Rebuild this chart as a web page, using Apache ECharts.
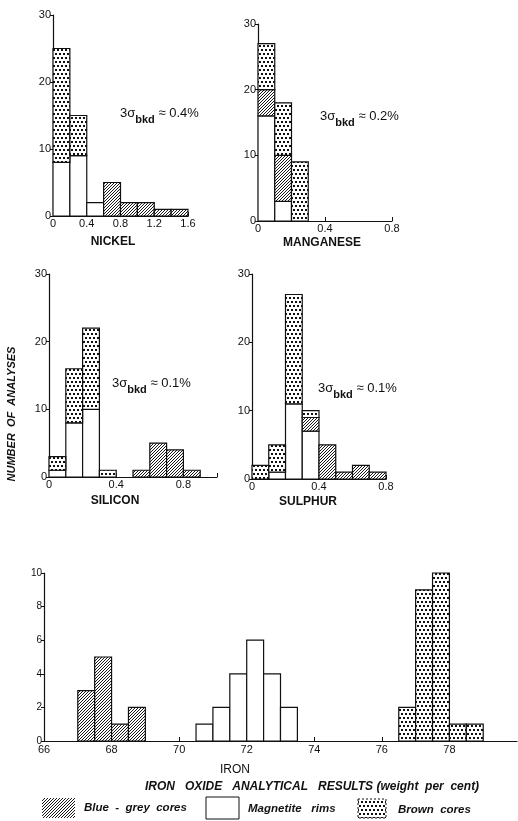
<!DOCTYPE html>
<html><head><meta charset="utf-8">
<script src="https://cdn.jsdelivr.net/npm/echarts/dist/echarts.min.js"></script>
<style>html,body{margin:0;padding:0;background:#fff}#c{width:518px;height:821px}</style>
</head><body><div id="c"></div>
<script>
// ---------- data (counts per bin; layers: Magnetite rims, Blue-grey cores, Brown cores) ----------
const nickelBins = [0, 0.2, 0.4, 0.6, 0.8, 1.0, 1.2, 1.4, 1.6];
const nickelRims = [8, 9, 2, 0, 0, 0, 0, 0];
const nickelBlueGrey = [0, 0, 0, 5, 2, 2, 1, 1];
const nickelBrown = [17, 6, 0, 0, 0, 0, 0, 0];

const manganeseBins = [0, 0.1, 0.2, 0.3];
const manganeseRims = [16, 3, 0];
const manganeseBlueGrey = [4, 7, 0];
const manganeseBrown = [7, 8, 9];

const siliconBins = [0, 0.1, 0.2, 0.3, 0.4, 0.5, 0.6, 0.7, 0.8, 0.9];
const siliconRims = [1, 8, 10, 0, 0, 0, 0, 0, 0];
const siliconBlueGrey = [0, 0, 0, 0, 0, 1, 5, 4, 1];
const siliconBrown = [2, 8, 12, 1, 0, 0, 0, 0, 0];

const sulphurBins = [0, 0.1, 0.2, 0.3, 0.4, 0.5, 0.6, 0.7, 0.8];
const sulphurRims = [0, 1, 11, 7, 0, 0, 0, 0];
const sulphurBlueGrey = [0, 0, 0, 2, 5, 1, 2, 1];
const sulphurBrown = [2, 4, 16, 1, 0, 0, 0, 0];

const ironBlueGreyBins = [67, 67.5, 68, 68.5, 69];
const ironBlueGrey = [3, 5, 1, 2];
const ironRimsBins = [70.5, 71, 71.5, 72, 72.5, 73, 73.5];
const ironRims = [1, 2, 4, 6, 4, 2];
const ironBrownBins = [76.5, 77, 77.5, 78, 78.5, 79];
const ironBrown = [2, 9, 10, 1, 1];

const elementNames = ['NICKEL', 'MANGANESE', 'SILICON', 'SULPHUR'];
const elementTicks = [[0, 0.4, 0.8, 1.2, 1.6], [0, 0.4, 0.8], [0, 0.4, 0.8], [0, 0.4, 0.8]];
const backgroundNotes = ['0.4%', '0.2%', '0.1%', '0.1%'];
const seriesNames = ['Magnetite rims', 'Blue - grey cores', 'Brown cores'];

// ---------- patterns ----------
function hatchPattern() {
  const s = 3;
  const c = document.createElement('canvas'); c.width = s; c.height = s;
  const g = c.getContext('2d');
  g.fillStyle = '#fff'; g.fillRect(0, 0, s, s);
  g.strokeStyle = '#1a1a1a'; g.lineWidth = 1;
  g.beginPath();
  g.moveTo(-1, s + 1); g.lineTo(s + 1, -1);
  g.moveTo(-1, 1); g.lineTo(1, -1);
  g.moveTo(s - 1, s + 1); g.lineTo(s + 1, s - 1);
  g.stroke();
  return { image: c, repeat: 'repeat' };
}
function dotPattern() {
  const c = document.createElement('canvas'); c.width = 8; c.height = 8;
  const g = c.getContext('2d');
  g.fillStyle = '#fff'; g.fillRect(0, 0, 8, 8);
  g.fillStyle = '#111';
  [[1, 1], [5, 1], [3, 5]].forEach(p => g.fillRect(p[0], p[1], 2, 2));
  g.fillRect(7, 5, 1, 2); g.fillRect(0, 5, 1, 2);
  return { image: c, repeat: 'repeat' };
}
const fills = ['#ffffff', hatchPattern(), dotPattern()];

// ---------- helpers ----------
function stacked(bins, layers) {
  const out = layers.map(() => []);
  for (let j = 0; j < bins.length - 1; j++) {
    let base = 0;
    layers.forEach((layer, i) => {
      const v = layer[j];
      if (v > 0) out[i].push([bins[j], bins[j + 1], base, base + v]);
      base += v;
    });
  }
  return out;
}
function single(bins, counts) {
  const out = [];
  for (let j = 0; j < counts.length; j++) if (counts[j] > 0) out.push([bins[j], bins[j + 1], 0, counts[j]]);
  return out;
}
function rectRenderer(fill) {
  return function (params, api) {
    const a = api.coord([api.value(0), api.value(3)]);
    const b = api.coord([api.value(1), api.value(2)]);
    return {
      type: 'rect',
      shape: { x: a[0], y: a[1], width: b[0] - a[0], height: b[1] - a[1] },
      style: { fill: fill, stroke: '#111', lineWidth: 1.2 }
    };
  };
}

const FONT = 'Liberation Sans';
const panels = [
  { grid: { left: 53, top: 15, width: 135, height: 201 }, xmax: 1.6, data: stacked(nickelBins, [nickelRims, nickelBlueGrey, nickelBrown]) },
  { grid: { left: 258, top: 24, width: 134, height: 197 }, xmax: 0.8, data: stacked(manganeseBins, [manganeseRims, manganeseBlueGrey, manganeseBrown]) },
  { grid: { left: 49, top: 274, width: 168, height: 203 }, xmax: 1.0, data: stacked(siliconBins, [siliconRims, siliconBlueGrey, siliconBrown]) },
  { grid: { left: 252, top: 274, width: 134, height: 205 }, xmax: 0.8, data: stacked(sulphurBins, [sulphurRims, sulphurBlueGrey, sulphurBrown]) }
];
const ironData = [single(ironRimsBins, ironRims), single(ironBlueGreyBins, ironBlueGrey), single(ironBrownBins, ironBrown)];

const axisLine = { show: true, onZero: false, lineStyle: { color: '#111', width: 1.2 } };
const grids = [], xAxes = [], yAxes = [], series = [];
panels.forEach((p, i) => {
  grids.push(p.grid);
  const ticks = elementTicks[i];
  xAxes.push({
    gridIndex: i, type: 'value', min: 0, max: p.xmax, interval: 0.4,
    axisLine, splitLine: { show: false },
    axisTick: { inside: true, length: 4, lineStyle: { color: '#111' } },
    axisLabel: { color: '#111', fontSize: 11, fontFamily: FONT, margin: 2,
      formatter: v => ticks.some(t => Math.abs(t - v) < 1e-6) ? String(+v.toFixed(1)) : '' }
  });
  yAxes.push({
    gridIndex: i, type: 'value', min: 0, max: 30, interval: 10,
    axisLine, splitLine: { show: false },
    axisTick: { show: true, length: 3, lineStyle: { color: '#111' } },
    axisLabel: { color: '#111', fontSize: 11, fontFamily: FONT, margin: 2 }
  });
  p.data.forEach((d, k) => series.push({
    type: 'custom', name: seriesNames[k], xAxisIndex: i, yAxisIndex: i,
    renderItem: rectRenderer(fills[k]), encode: { x: [0, 1], y: [2, 3] }, data: d, silent: true
  }));
});
grids.push({ left: 44, top: 573, width: 473, height: 168 });
xAxes.push({
  gridIndex: 4, type: 'value', min: 66, max: 80, interval: 2,
  axisLine, splitLine: { show: false },
  axisTick: { inside: true, length: 4, lineStyle: { color: '#111' } },
  axisLabel: { color: '#111', fontSize: 11, fontFamily: FONT, margin: 3, showMaxLabel: false }
});
yAxes.push({
  gridIndex: 4, type: 'value', min: 0, max: 10, interval: 2,
  axisLine, splitLine: { show: false },
  axisTick: { show: true, length: 3, lineStyle: { color: '#111' } },
  axisLabel: { color: '#111', fontSize: 10, fontFamily: FONT, margin: 2 }
});
ironData.forEach((d, k) => series.push({
  type: 'custom', name: seriesNames[k], xAxisIndex: 4, yAxisIndex: 4,
  renderItem: rectRenderer(fills[k]), encode: { x: [0, 1], y: [2, 3] }, data: d, silent: true
}));

// ---------- text ----------
const labelPos = [[113, 242], [322, 243], [115, 501], [308, 502]];
const notePos = [[120, 116], [320, 119], [112, 386], [318, 391]];
const graphic = [];
elementNames.forEach((n, i) => graphic.push({
  type: 'text', x: labelPos[i][0], y: labelPos[i][1],
  style: { text: n, fill: '#111', font: '600 12px "' + FONT + '"', align: 'center', verticalAlign: 'middle' }
}));
backgroundNotes.forEach((n, i) => graphic.push({
  type: 'text', x: notePos[i][0], y: notePos[i][1],
  style: {
    text: '{m|3σ}{s|bkd}{m| ≈ ' + n + '}', fill: '#111', verticalAlign: 'middle',
    rich: {
      m: { fontSize: 13, fontFamily: FONT, fill: '#111', verticalAlign: 'top' },
      s: { fontSize: 11, fontFamily: FONT, fill: '#111', fontWeight: 'bold', padding: [7, 0, 0, 0], verticalAlign: 'bottom' }
    }
  }
}));
const LEG = 'italic bold 11.5px "' + FONT + '"';
graphic.push(
  { type: 'text', x: 12, y: 414, rotation: Math.PI / 2,
    style: { text: 'NUMBER  OF  ANALYSES', fill: '#111', font: 'italic bold 11px "' + FONT + '"', align: 'center', verticalAlign: 'middle' } },
  { type: 'text', x: 235, y: 770,
    style: { text: 'IRON', fill: '#111', font: '12px "' + FONT + '"', align: 'center', verticalAlign: 'middle' } },
  { type: 'text', x: 312, y: 787,
    style: { text: 'IRON   OXIDE   ANALYTICAL   RESULTS (weight  per  cent)', fill: '#111', font: 'italic bold 12px "' + FONT + '"', align: 'center', verticalAlign: 'middle' } },
  { type: 'rect', shape: { x: 42, y: 798, width: 33, height: 20 }, style: { fill: fills[1], stroke: null } },
  { type: 'text', x: 84, y: 808, style: { text: 'Blue  -  grey  cores', fill: '#111', font: LEG, verticalAlign: 'middle' } },
  { type: 'rect', shape: { x: 206, y: 797, width: 33, height: 22 }, style: { fill: '#fff', stroke: '#111', lineWidth: 1 } },
  { type: 'text', x: 248, y: 809, style: { text: 'Magnetite   rims', fill: '#111', font: LEG, verticalAlign: 'middle' } },
  { type: 'rect', shape: { x: 358, y: 799, width: 28, height: 19 }, style: { fill: fills[2], stroke: '#111', lineWidth: 1, lineDash: [2, 2] } },
  { type: 'text', x: 398, y: 810, style: { text: 'Brown  cores', fill: '#111', font: LEG, verticalAlign: 'middle' } }
);

const chart = echarts.init(document.getElementById('c'), null, { renderer: 'canvas' });
chart.setOption({
  animation: false, backgroundColor: '#fff',
  grid: grids, xAxis: xAxes, yAxis: yAxes, series, graphic
});
</script></body></html>
